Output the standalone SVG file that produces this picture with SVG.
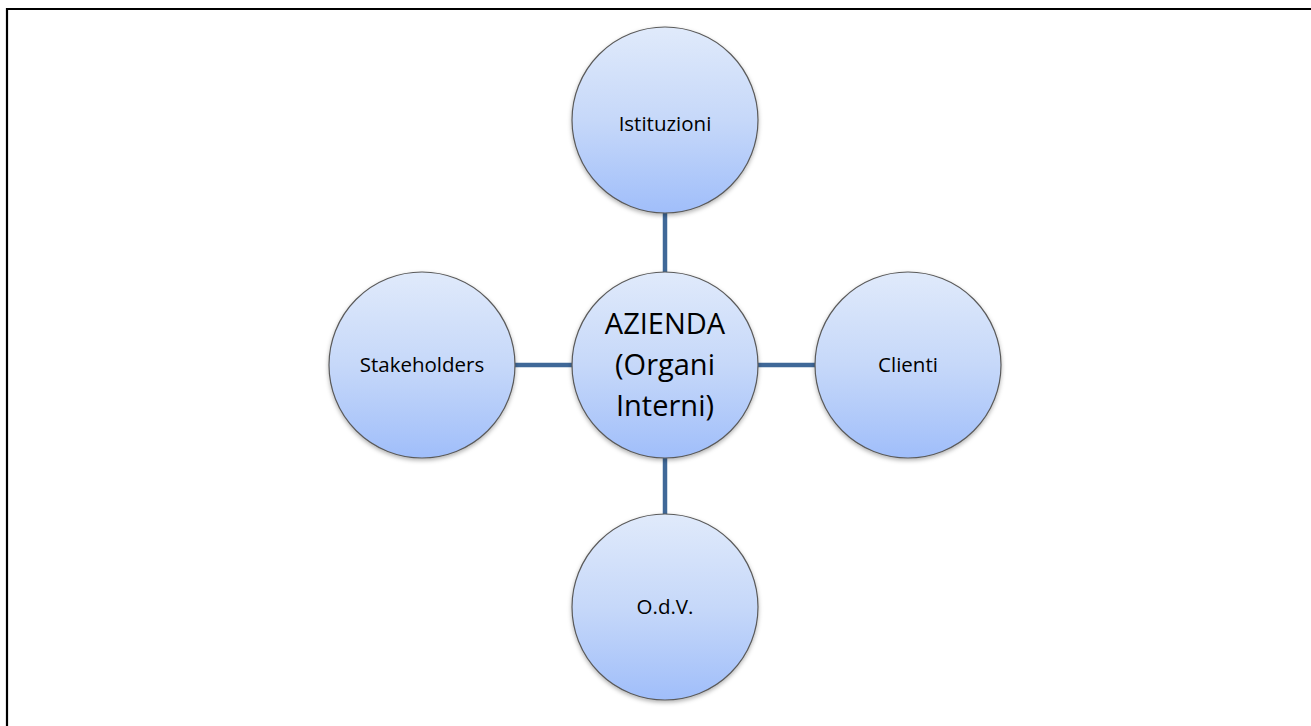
<svg xmlns="http://www.w3.org/2000/svg" width="1311" height="726" viewBox="0 0 1311 726">
  <style>
    .node circle { fill: url(#g); stroke: #5a5a5a; stroke-width: 1.2; filter: url(#sh); }
    .node text { font-family: "Open Sans", "Liberation Sans", sans-serif; font-size: 20.5px; fill: #000; text-anchor: middle; }
    .node text.big { font-size: 29px; }
    .conn line { stroke: #3f6898; stroke-width: 4.5; }
  </style>
  <defs>
    <linearGradient id="g" x1="0" y1="0" x2="0" y2="1">
      <stop offset="0" stop-color="#e0eafb"/>
      <stop offset="0.5" stop-color="#c6d8f9"/>
      <stop offset="1" stop-color="#a0befa"/>
    </linearGradient>
    <filter id="sh" x="-20%" y="-20%" width="140%" height="140%">
      <feDropShadow dx="0" dy="2" stdDeviation="2" flood-color="#000" flood-opacity="0.3"/>
    </filter>
  </defs>
  <rect x="0" y="0" width="1311" height="726" fill="#fff"/>
  <path d="M7 726 V9 H1311" fill="none" stroke="#000" stroke-width="2.2"/>
  <g class="conn">
    <line x1="665" y1="212" x2="665" y2="273"/>
    <line x1="665" y1="458" x2="665" y2="516"/>
    <line x1="514" y1="365" x2="573" y2="365"/>
    <line x1="757" y1="365" x2="816" y2="365"/>
  </g>
  <g id="istituzioni" class="node">
    <circle cx="665" cy="120" r="93"/>
    <text x="665" y="131">Istituzioni</text>
  </g>
  <g id="azienda" class="node">
    <circle cx="665" cy="365" r="93"/>
    <text class="big" x="665" y="334">AZIENDA</text>
    <text class="big" x="665" y="375">(Organi</text>
    <text class="big" x="665" y="416">Interni)</text>
  </g>
  <g id="stakeholders" class="node">
    <circle cx="422" cy="365" r="93"/>
    <text x="422" y="372">Stakeholders</text>
  </g>
  <g id="clienti" class="node">
    <circle cx="908" cy="365" r="93"/>
    <text x="908" y="372">Clienti</text>
  </g>
  <g id="odv" class="node">
    <circle cx="665" cy="607" r="93"/>
    <text x="665" y="614">O.d.V.</text>
  </g>
</svg>
